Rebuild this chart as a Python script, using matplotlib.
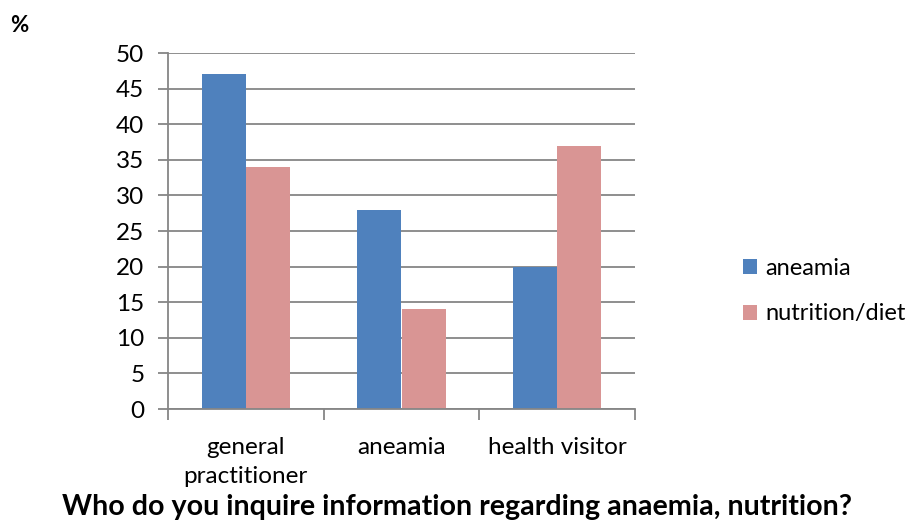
import matplotlib
matplotlib.use("Agg")
import matplotlib.pyplot as plt
import numpy as np

categories = ["general\npractitioner", "aneamia", "health visitor"]
series_names = ["aneamia", "nutrition/diet"]
aneamia = [47, 28, 20]
nutrition = [34, 14, 37]
y_ticks = [0, 5, 10, 15, 20, 25, 30, 35, 40, 45, 50]

plt.rcParams["font.family"] = ["Lato", "DejaVu Sans"]

blue = "#4F81BD"
pink = "#D99594"
gray = "#868686"

fig = plt.figure(figsize=(9.17, 5.2), dpi=100)
ax = fig.add_axes([168 / 917, 1 - 409 / 520, (635 - 168) / 917, (409 - 53) / 520])

x = np.arange(len(categories))
w = 0.283
ax.bar(x - w / 2, aneamia, width=w, color=blue, label=series_names[0], zorder=2)
ax.bar(x + w / 2, nutrition, width=w, color=pink, label=series_names[1], zorder=2)

ax.set_xlim(-0.5, len(categories) - 0.5)
ax.set_ylim(0, 50)
ax.set_yticks(y_ticks)
ax.set_yticklabels([str(v) for v in y_ticks], fontsize=17.5)
ax.yaxis.grid(True, color=gray, linewidth=1.3, zorder=0)
ax.set_axisbelow(True)

# category labels centred, ticks at category boundaries
ax.set_xticks(np.arange(-0.5, len(categories), 1.0))
ax.set_xticklabels([""] * (len(categories) + 1))
ax.set_xticks(x, minor=True)
ax.set_xticklabels(categories, minor=True, fontsize=17.5, linespacing=1.5)
ax.tick_params(axis="x", which="minor", length=0, pad=20)
ax.tick_params(axis="x", which="major", length=8, width=1.3, color=gray, direction="out")
ax.tick_params(axis="y", length=7, width=1.3, color=gray, direction="out", pad=10)

for s in ["top", "right"]:
    ax.spines[s].set_visible(False)
for s in ["left", "bottom"]:
    ax.spines[s].set_color(gray)
    ax.spines[s].set_linewidth(1.3)

fig.legend(loc="center left", bbox_to_anchor=(722 / 917, 1 - 291 / 520), frameon=False,
           fontsize=17, handlelength=0.6, handleheight=0.6, handletextpad=0.35,
           labelspacing=1.05)

fig.text(10 / 917, 1 - 25 / 520, "%", fontsize=16, fontweight="bold", va="center", ha="left")
fig.text(62 / 917, 1 - 507 / 520, "Who do you inquire information regarding anaemia, nutrition?",
         fontsize=20.6, fontweight="bold", va="center", ha="left")

fig.savefig("out.png", dpi=100)
